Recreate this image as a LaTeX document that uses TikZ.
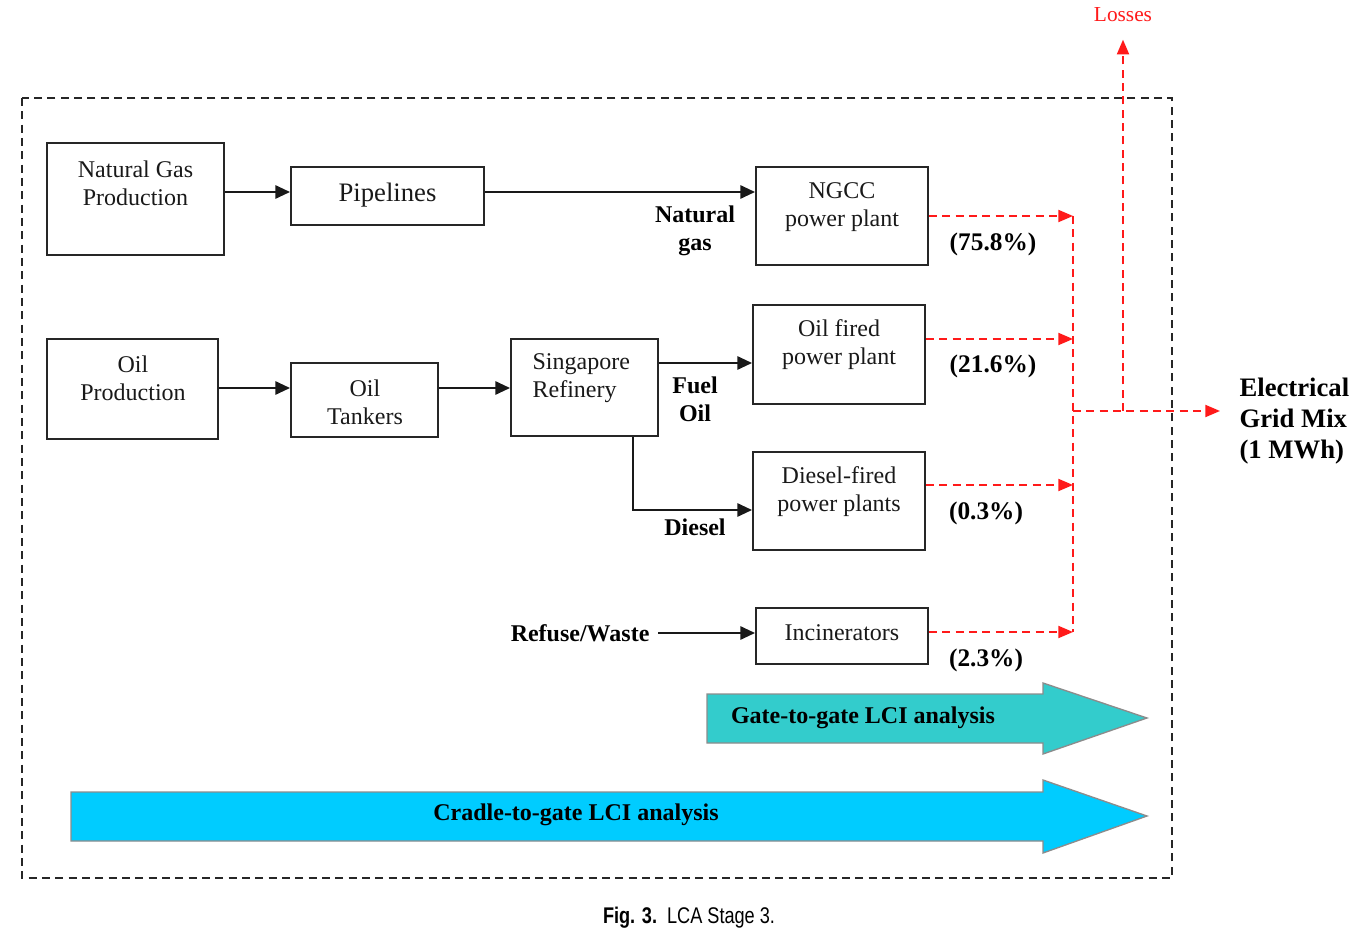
\documentclass[tikz,border=0pt]{standalone}
\usepackage{fontspec}
\setmainfont{Liberation Serif}
\newfontfamily\capfont[FakeStretch=0.8]{Liberation Sans}
\usetikzlibrary{arrows.meta,calc}
\definecolor{teal1}{HTML}{33CCCC}
\definecolor{cyan1}{HTML}{00CCFF}
\definecolor{redd}{HTML}{FF1A1A}
\begin{document}
\begin{tikzpicture}[x=0.75pt,y=-0.75pt,
  bx/.style 2 args={draw=black!85, line width=1.5pt, minimum width=#1*0.75pt, minimum height=#2*0.75pt, inner sep=0pt},
  txt/.style={font=\fontsize{18}{21}\selectfont, align=center, text=black!90, inner sep=1pt},
  btxt/.style={font=\fontsize{18}{21}\selectfont\bfseries, align=center, inner sep=1pt},
  pct/.style={font=\fontsize{19}{22}\selectfont\bfseries, inner sep=1pt},
  arr/.style={line width=1.4pt, draw=black!90, -{Triangle[length=11pt,width=10pt]}},
  ln/.style={line width=1.4pt, draw=black!90},
  rarr/.style={line width=1.4pt, draw=redd, dash pattern=on 6pt off 4pt, -{Triangle[length=11pt,width=9pt]}},
  rln/.style={line width=1.4pt, draw=redd, dash pattern=on 6pt off 4pt},
  bigarrow/.style={draw=black!45, line width=1pt}
]
\useasboundingbox (0,0) rectangle (1361,934);

% outer dashed frame
\draw[line width=1.4pt, dash pattern=on 6pt off 4pt, draw=black!85] (22,98) rectangle (1172,878);

% boxes
\node[bx={177}{112}] (ngp) at (135.5,199) {};
\node[txt] (ngpt) at (135.5,183) {Natural Gas\\Production};
\node[bx={193}{58}] (pipe) at (387.5,196) {};
\node[txt, font=\fontsize{20}{23}\selectfont] (pipet) at (387.5,195) {Pipelines};
\node[bx={172}{98}] (ngcc) at (842,216) {};
\node[txt] (ngcct) at (842,207) {NGCC\\power plant};

\node[bx={171}{100}] (oilp) at (132.5,389) {};
\node[txt] (oilpt) at (133,378) {Oil\\Production};
\node[bx={147}{74}] (tank) at (364.5,400) {};
\node[txt] (tankt) at (365,402) {Oil\\Tankers};
\node[bx={147}{97}] (ref) at (584.5,387.5) {};
\node[txt, align=left, anchor=west] (reft) at (531,378) {Singapore\\Refinery};
\node[bx={172}{99}] (oilf) at (839,354.5) {};
\node[txt] (oilft) at (839,345) {Oil fired\\power plant};
\node[bx={172}{98}] (dies) at (839,501) {};
\node[txt] (diest) at (839,492) {Diesel-fired\\power plants};
\node[bx={172}{56}] (inc) at (842,636) {};
\node[txt] (inct) at (842,633) {Incinerators};

% labels
\node[btxt] (ngl) at (695,231) {Natural\\gas};
\node[btxt] (fol) at (695,399) {Fuel\\Oil};
\node[btxt] (dl) at (695,527) {Diesel};
\node[btxt, anchor=east] (rw) at (651,633) {Refuse/Waste};

% black connectors
\draw[arr] (ngp.east |- 0,192) -- (pipe.west |- 0,192);
\draw[arr] (pipe.east |- 0,192) -- (ngcc.west |- 0,192);
\draw[arr] (oilp.east |- 0,388) -- (tank.west |- 0,388);
\draw[arr] (tank.east |- 0,388) -- (ref.west |- 0,388);
\draw[arr] (ref.east |- 0,363) -- (oilf.west |- 0,363);
\draw[arr] (ref.south -| 633,0) |- (dies.west |- 0,510);
\draw[arr] ($(rw.east)+(7,0)$) -- (inc.west |- rw.east);

% red flows
\coordinate (j1) at (1073,216);
\coordinate (j2) at (1073,339);
\coordinate (j3) at (1073,485);
\coordinate (j4) at (1073,632);
\coordinate (jm) at (1073,411);
\coordinate (lb) at (1123,411);
\coordinate (ge) at (1220,411);
\draw[rarr] (ngcc.east |- j1) -- (j1);
\draw[rarr] (oilf.east |- j2) -- (j2);
\draw[rarr] (dies.east |- j3) -- (j3);
\draw[rarr] (inc.east |- j4) -- (j4);
\draw[rln] (j1) -- (j4);
\draw[rarr] (jm) -- (ge);
\node[text=redd, font=\fontsize{16}{18}\selectfont, inner sep=1pt] (loss) at (1123,15) {Losses};
\draw[rarr] (lb) -- ($(loss.south)+(0,16)$);

% percentages
\node[pct] (p1) at (993,244) {(75.8\%)};
\node[pct] (p2) at (993,366) {(21.6\%)};
\node[pct] (p3) at (986,513) {(0.3\%)};
\node[pct] (p4) at (986,660) {(2.3\%)};

% grid mix
\node[btxt, font=\fontsize{20}{23.5}\selectfont\bfseries, align=left, anchor=west] (grid) at (1238,421) {Electrical\\Grid Mix\\(1 MWh)};

% big arrows
\draw[bigarrow, fill=teal1] (707,694) -- (1043,694) -- (1043,683) -- (1147,718) -- (1043,754) -- (1043,743) -- (707,743) -- cycle;
\node[btxt] (gate) at (863,718) {Gate-to-gate LCI analysis};
\draw[bigarrow, fill=cyan1] (71,792) -- (1043,792) -- (1043,780) -- (1147,816) -- (1043,853) -- (1043,841) -- (71,841) -- cycle;
\node[btxt] (cradle) at (576,815) {Cradle-to-gate LCI analysis};

% caption
\node[font=\capfont\fontsize{17}{20}\selectfont, inner sep=0pt] (cap) at (689,918) {\textbf{Fig. 3.}\ \ LCA Stage 3.};
\end{tikzpicture}
\end{document}
